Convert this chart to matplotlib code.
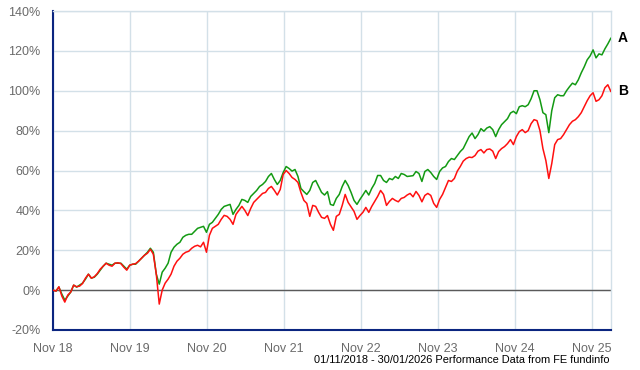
import numpy as np
import pandas as pd
import matplotlib
matplotlib.use("Agg")
import matplotlib.pyplot as plt
import matplotlib.dates as mdates
from matplotlib.ticker import FuncFormatter

# fortnightly points, 01/11/2018 - 30/01/2026
start_date = "2018-11-01"
end_date = "2026-01-30"

series_a = [
    0, -0.5, 1.5, -2, -5, -3, -1, 2.5, 1.5, 2.5,
    3.5, 5.5, 8, 6, 6.5, 8, 10, 12, 13.5, 13,
    12.5, 13.5, 13.5, 13.5, 12, 10.5, 12.5, 13, 13, 14.5,
    16, 17.5, 19, 21, 19, 8, 3, 9, 11, 13.5,
    19, 21.5, 23, 24, 26.5, 27.5, 28, 28, 29.5, 31,
    31.5, 32, 29, 33, 34, 36, 38, 40.5, 42, 42.5,
    43, 38, 40.5, 42.5, 45.5, 45, 44, 47, 48.5, 50,
    52, 53, 54.5, 57, 58.5, 55.5, 53, 55, 59, 62,
    61, 59.7, 60.5, 57, 51, 49.4, 48, 50, 54, 55,
    52, 49, 47.7, 49.4, 43, 42.5, 46, 48, 52, 55,
    52.5, 49, 45, 43, 45.5, 47.7, 50, 47.7, 51, 53.5,
    57.5, 57.5, 55, 54, 56, 55.4, 57, 56, 58.5, 58,
    57, 57.2, 57.4, 59.5, 58.5, 54.5, 59.5, 60.5, 59, 57,
    55.5, 59.5, 61.3, 62, 64.5, 66, 65.5, 67.5, 69.5, 71,
    74, 77, 78.8, 76, 78, 81, 79.7, 81.3, 82, 80.5,
    77, 80.5, 83, 84.5, 86, 88.8, 89.7, 88.5, 92, 92.5,
    92, 93, 96, 100, 100, 95.5, 89, 88, 79, 90,
    96.5, 98, 97.5, 97.5, 100, 102, 103.8, 103, 105.5, 109,
    112, 115.5, 117.5, 120.5, 116.5, 118.5, 118, 121, 123.5, 126.3,
]

series_b = [
    0, -0.5, 1.7, -3, -6, -2.5, -1, 2.5, 1.7, 2,
    3.3, 6, 8, 6, 6.7, 8.3, 10.5, 12, 13.5, 12.5,
    12, 13.5, 13.7, 13.3, 11.5, 10, 12.5, 13, 13.3, 14.5,
    16, 17.5, 18.5, 20.5, 18, 8, -7, 0, 3.5, 5.5,
    8, 12, 14.5, 16, 18, 19, 19.5, 21, 22, 22.5,
    21.7, 24, 19, 27.5, 31, 32, 33, 35.5, 37.5, 37,
    35.5, 33, 38, 40, 42, 40, 37.4, 41, 44, 45.5,
    47, 48.5, 49, 51, 52, 50, 47.7, 50.5, 58, 60,
    58.5, 56.5, 55.5, 54, 49, 45, 43.5, 37, 42.5, 42,
    39, 36.5, 36, 37.4, 33, 30, 37, 38, 42.5, 48,
    44, 41.7, 39.5, 35.5, 37.4, 39, 41.5, 39, 42, 44.5,
    47, 50, 48, 42.5, 44.5, 46, 45, 44.3, 46, 46.5,
    47.7, 48.5, 46.8, 49.5, 47.5, 44.3, 47.5, 48.5, 47.5, 43.5,
    41.5, 45.5, 48, 51.5, 55, 54.5, 56, 59.7, 62, 64.7,
    66, 66.7, 66.5, 67.5, 69.7, 70.5, 68.8, 70.5, 70.8, 69.7,
    66, 69.5, 71, 72, 73.5, 75.5, 73, 77, 79.5, 80.5,
    79, 80, 83.5, 85.5, 85, 80, 71, 65, 56, 63.5,
    73, 75.5, 76, 78, 80.5, 83, 84.7, 85.5, 87, 89,
    92, 95, 97.5, 99, 94.7, 95.5, 97.5, 101.5, 103, 99.7,
]

series_labels = ["A", "B"]
series_colors = ["#139a13", "#ff1010"]

y_ticks = [-20, 0, 20, 40, 60, 80, 100, 120, 140]
footer = "01/11/2018 - 30/01/2026 Performance Data from FE fundinfo"

plt.rcParams["font.family"] = ["Liberation Sans", "DejaVu Sans"]

dates = pd.date_range(start_date, periods=len(series_a), freq="14D")
tick_dates = pd.date_range("2018-11-01", "2025-11-01", freq="12MS")

fig = plt.figure(figsize=(6.4, 3.7), dpi=100)
ax = fig.add_axes([53 / 640, 40 / 370, 558 / 640, 319 / 370])

grid_col = "#d3e0e8"
for s, c, lab in zip([series_a, series_b], series_colors, series_labels):
    ax.plot(dates, s, color=c, lw=1.1, zorder=3)
    ax.annotate(lab, xy=(dates[-1], s[-1]), xytext=(7, 0),
                textcoords="offset pixels", ha="left", va="center",
                fontsize=10, fontweight="bold", color="black",
                annotation_clip=False)

ax.axhline(0, color="#5a5a5a", lw=1.0, zorder=2)

ax.set_xlim(pd.Timestamp(start_date), pd.Timestamp(end_date))
ax.set_ylim(-20, 140)
ax.set_yticks(y_ticks)
ax.yaxis.set_major_formatter(FuncFormatter(lambda v, p: "%d%%" % v))
ax.set_xticks(tick_dates)
ax.xaxis.set_major_formatter(mdates.DateFormatter("Nov %y"))

ax.grid(True, color=grid_col, lw=1.0, zorder=0)
ax.tick_params(length=0, labelsize=9, labelcolor="#6a6a6a")
ax.tick_params(axis="x", pad=9)
ax.tick_params(axis="y", pad=9)

for side in ["top", "right"]:
    ax.spines[side].set_color(grid_col)
    ax.spines[side].set_linewidth(1.0)
for side in ["left", "bottom"]:
    ax.spines[side].set_color("#0b2580")
    ax.spines[side].set_linewidth(1.5)

fig.text(610 / 640, 1 - 360 / 370, footer, ha="right", va="center",
         fontsize=7.9, color="black")

fig.savefig("out.png", dpi=100)
